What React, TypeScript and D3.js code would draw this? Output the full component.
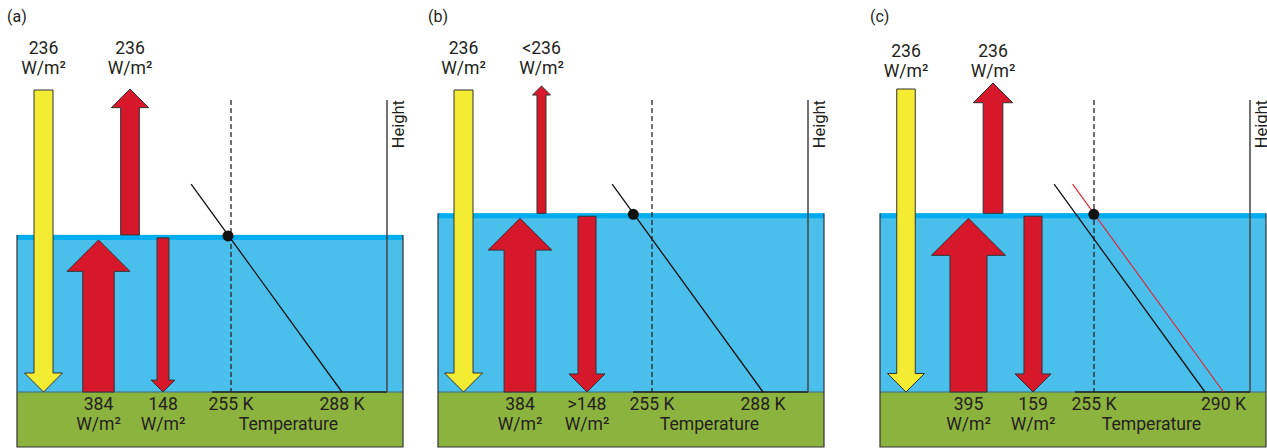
import * as d3 from "d3";

// values
const panelNames = ["(a)", "(b)", "(c)"];
const solarLabels = ["236", "236", "236"];
const outgoingLabels = ["236", "<236", "236"];
const surfaceLabels = ["384", "384", "395"];
const backLabels = ["148", ">148", "159"];
// flux magnitudes the arrow widths are drawn with (schematic in b and c)
const solarFlux = [236, 236, 230];
const outgoingFlux = [232, 112, 245];
const surfaceFlux = [390, 395, 460];
const backFlux = [148, 224, 224];
// atmosphere: emission level (km) and temperature profiles
const emissionHeight = [5.38, 6.12, 6.12];
const surfaceTemps = [[288], [288], [288, 293.5]];
const surfaceTempLabels = ["288 K", "288 K", "290 K"];
const effectiveTemp = 255;
const lapseRate = 6.3; // K per km
const profileTop = 7.12;
const heightMax = 10;

const W = 1267;
const H = 448;
const panelLeft = [17, 438, 880];
const panelWidth = 386;
const groundY = 392;
const bottomY = 447;

// layout of each panel, relative to its left edge
const arrowX = [
    { solar: 26.5, out: 113, surf: 81.5, back: 146 },
    { solar: 25.5, out: 103.5, surf: 82, back: 149 },
    { solar: 26, out: 113, surf: 88.5, back: 153 }
];
const solarTop = [90, 90, 89];
const outTip = [89, 86, 83];
const topLabelY = [54, 54, 57];

const font = "Roboto, 'Noto Sans', sans-serif";
const fs = 17.6;
const ink = "#231f20";
const red = "#d7182a";
const yellow = "#f4eb33";
const sky = "#4bbfec";
const skyTop = "#00aeef";
const grass = "#8db33f";

const y = d3.scaleLinear().domain([0, heightMax]).range([groundY, 100]);
const widthScale = d3.scaleLinear().domain([0, 236]).range([0, 19]);

function arrowPath(cx: number, tail: number, tip: number, w: number) {
    const dir = tip < tail ? 1 : -1; // 1 = pointing up
    const base = tip + dir * w;
    const p = d3.path();
    p.moveTo(cx - w / 2, tail);
    p.lineTo(cx - w / 2, base);
    p.lineTo(cx - w, base);
    p.lineTo(cx, tip);
    p.lineTo(cx + w, base);
    p.lineTo(cx + w / 2, base);
    p.lineTo(cx + w / 2, tail);
    p.closePath();
    return p.toString();
}

function FluxLabel({ x, yTop, value }: { x: number; yTop: number; value: string }) {
    return (
        <text x={x} y={yTop} textAnchor="middle" fontSize={fs} fill={ink}>
            <tspan x={x}>{value}</tspan>
            <tspan x={x} dy={20}>W/m²</tspan>
        </text>
    );
}

function Panel({ i }: { i: number }) {
    const left = panelLeft[i];
    const x = d3.scaleLinear().domain([255, 288]).range([left + 214, left + 325]);
    const ax = arrowX[i];
    const atmTop = y(emissionHeight[i]);
    const axisX = left + 370;
    const profileLine = d3
        .line<[number, number]>()
        .x((d) => x(d[1]))
        .y((d) => y(d[0]));
    const profiles = surfaceTemps[i].map((t) => [
        [0, t],
        [profileTop, t - lapseRate * profileTop]
    ] as [number, number][]);
    const current = surfaceTemps[i][surfaceTemps[i].length - 1];
    const dotTemp = current - lapseRate * emissionHeight[i];

    return (
        <g fontFamily={font}>
            <text x={left - 10} y={22} fontSize={16} fill={ink}>{panelNames[i]}</text>

            <rect x={left} y={atmTop} width={panelWidth} height={groundY - atmTop} fill={sky} />
            <rect x={left} y={atmTop} width={panelWidth} height={5} fill={skyTop} />
            <rect x={left} y={groundY} width={panelWidth} height={bottomY - groundY} fill={grass} />
            <line x1={left} x2={left + panelWidth} y1={groundY} y2={groundY} stroke="#3d6b7d" strokeWidth={1} />
            <path
                d={`M${left},${atmTop}V${bottomY}H${left + panelWidth}V${atmTop}`}
                fill="none"
                stroke="#333"
                strokeWidth={1.2}
            />

            {/* temperature and height axes */}
            <line x1={left + 195} x2={axisX} y1={groundY} y2={groundY} stroke="#222" strokeWidth={1.5} />
            <line x1={axisX} x2={axisX} y1={y(heightMax)} y2={groundY} stroke="#444" strokeWidth={1.5} />
            <text
                transform={`translate(${axisX + 17},${y(heightMax)}) rotate(-90)`}
                textAnchor="end"
                fontSize={16.5}
                fill={ink}
            >
                Height
            </text>
            <line
                x1={x(effectiveTemp)}
                x2={x(effectiveTemp)}
                y1={y(heightMax)}
                y2={groundY}
                stroke="#222"
                strokeWidth={1.3}
                strokeDasharray="5,3"
            />
            {profiles.map((p, k) => (
                <path
                    key={k}
                    d={profileLine(p) ?? ""}
                    fill="none"
                    stroke={k === 0 ? "#111" : "#e3202c"}
                    strokeWidth={k === 0 ? 1.3 : 1.1}
                />
            ))}
            <circle cx={x(dotTemp)} cy={atmTop + 1} r={5.5} fill="#111" />

            {/* radiation arrows */}
            <path
                d={arrowPath(left + ax.solar, solarTop[i], groundY, widthScale(solarFlux[i]))}
                fill={yellow}
                stroke="#333"
                strokeWidth={1}
            />
            <path
                d={arrowPath(left + ax.out, atmTop, outTip[i], widthScale(outgoingFlux[i]))}
                fill={red}
                stroke="#333"
                strokeWidth={1}
            />
            <path
                d={arrowPath(left + ax.surf, groundY, atmTop + 5, widthScale(surfaceFlux[i]))}
                fill={red}
                stroke="#333"
                strokeWidth={1}
            />
            <path
                d={arrowPath(left + ax.back, atmTop + 3, groundY, widthScale(backFlux[i]))}
                fill={red}
                stroke="#333"
                strokeWidth={1}
            />

            <FluxLabel x={left + ax.solar} yTop={topLabelY[i]} value={solarLabels[i]} />
            <FluxLabel x={left + ax.out} yTop={topLabelY[i]} value={outgoingLabels[i]} />
            <FluxLabel x={left + ax.surf} yTop={410} value={surfaceLabels[i]} />
            <FluxLabel x={left + ax.back} yTop={410} value={backLabels[i]} />

            <text x={x(effectiveTemp)} y={410} textAnchor="middle" fontSize={fs} fill={ink}>
                {effectiveTemp} K
            </text>
            <text x={x(current)} y={410} textAnchor="middle" fontSize={fs} fill={ink}>
                {surfaceTempLabels[i]}
            </text>
            <text x={(x(255) + x(288)) / 2 + 2} y={430} textAnchor="middle" fontSize={fs} fill={ink}>
                Temperature
            </text>
        </g>
    );
}

export default function App() {
    return (
        <svg width={W} height={H} style={{ position: "absolute", left: 0, top: 0, background: "#fff" }}>
            {panelNames.map((_, i) => (
                <Panel key={i} i={i} />
            ))}
        </svg>
    );
}
